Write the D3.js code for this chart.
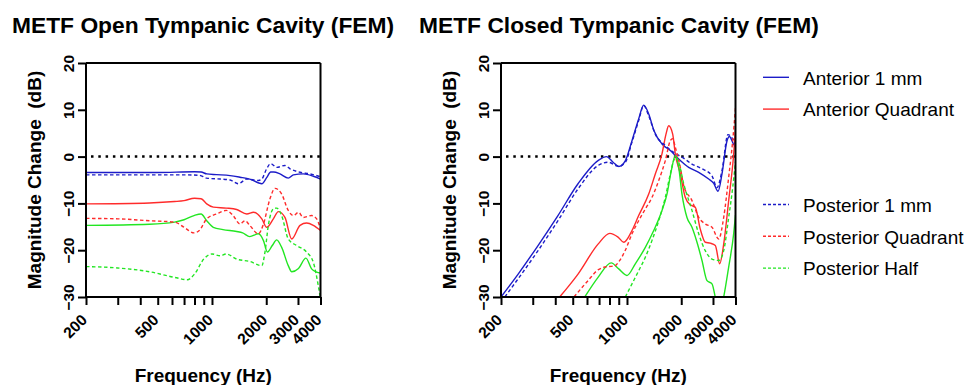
<!DOCTYPE html>
<html>
<head>
<meta charset="utf-8">
<script src="https://cdn.jsdelivr.net/npm/d3@7"></script>
<style>
  body { margin: 0; background: #fff; }
  text { font-family: Arial, "Liberation Sans", sans-serif; fill: #000; }
</style>
</head>
<body>
<svg id="chart" width="978" height="385"></svg>
<script>
// axis ticks
const freqTicks = [200, 300, 400, 500, 600, 700, 800, 900, 1000, 2000, 3000, 4000];
const freqLabels = [200, 500, 1000, 2000, 3000, 4000];
const dbTicks = [-30, -20, -10, 0, 10, 20];

// legend (two empty slots in the original)
const legendNames = ['Anterior 1 mm', 'Anterior Quadrant', '', '', 'Posterior 1 mm', 'Posterior Quadrant', 'Posterior Half'];

// open tympanic cavity: [frequency Hz, dB]
const openAnt1mm = [[200,-3.4],[500,-3.4],[800,-3.25],[870,-3.3],[935,-3.7],[1060,-3.85],[1260,-4.06],[1430,-4.4],[1620,-4.8],[1890,-5.8],[2010,-4.5],[2117,-3.3],[2200,-3.3],[2384,-3.7],[2650,-4.6],[2830,-3.9],[3210,-3.7],[3650,-4.2],[4000,-4.8]];
const openAntQuad = [[200,-10.1],[450,-9.9],[620,-9.6],[700,-9.4],[800,-8.9],[870,-9.0],[935,-10.1],[1017,-10.8],[1200,-11.0],[1370,-11.3],[1560,-12.25],[1700,-11.9],[1890,-13.3],[2012,-15.1],[2190,-13.3],[2334,-11.75],[2540,-13.0],[2770,-17.6],[3080,-14.7],[3350,-14.2],[3650,-14.7],[4000,-15.8]];
const openAntHalf = [[200,-14.7],[450,-14.45],[620,-14.0],[700,-13.5],[795,-12.6],[870,-12.25],[935,-13.7],[1017,-15.1],[1150,-15.6],[1370,-16.0],[1480,-16.3],[1620,-17.1],[1810,-16.5],[1930,-17.95],[2030,-20.4],[2160,-19.0],[2285,-17.8],[2436,-19.4],[2650,-23.3],[2770,-24.6],[3020,-23.9],[3320,-21.7],[3570,-24.0],[3810,-24.7],[4000,-24.9]];
const openPost1mm = [[200,-3.9],[700,-3.9],[850,-4.0],[935,-4.6],[1110,-4.8],[1260,-5.0],[1400,-5.8],[1560,-4.8],[1810,-5.1],[1890,-4.8],[2010,-2.6],[2117,-1.5],[2285,-2.3],[2540,-1.9],[2710,-2.6],[3080,-3.35],[3500,-3.7],[4000,-4.3]];
const openPostQuad = [[200,-13.2],[300,-13.3],[450,-13.7],[620,-14.0],[700,-15.1],[795,-16.3],[850,-15.8],[935,-13.3],[1060,-12.25],[1200,-11.5],[1310,-12.6],[1430,-14.4],[1525,-13.7],[1620,-14.7],[1810,-16.5],[1930,-14.4],[2098,-9.0],[2236,-6.8],[2436,-8.0],[2650,-11.5],[2830,-12.6],[3020,-11.9],[3210,-13.0],[3570,-12.6],[3810,-13.3],[4000,-15.5]];
const openPostHalf = [[200,-23.5],[300,-23.8],[450,-24.6],[620,-25.8],[730,-26.3],[800,-25.1],[900,-21.9],[1000,-20.8],[1110,-21.2],[1200,-20.8],[1370,-21.9],[1620,-22.4],[1890,-23.3],[1968,-20.4],[2054,-14.7],[2190,-11.2],[2285,-11.0],[2436,-12.6],[2650,-17.6],[2950,-19.0],[3350,-20.4],[3650,-22.6],[3890,-27.6],[4000,-30.4]];

// closed tympanic cavity
const closedAnt1mm = [[200,-30],[249,-25.1],[321,-19.0],[414,-12.6],[535,-5.8],[691,-0.85],[770,0],[837,-1.2],[900,-2.1],[980,-0.85],[1066,3.4],[1161,8.05],[1238,11.0],[1320,9.1],[1410,5.6],[1564,2.7],[1740,1.3],[1936,-0.5],[2200,-2.3],[2500,-3.35],[2840,-4.8],[3028,-5.7],[3200,-7.4],[3366,-3.7],[3590,3.4],[3700,4.3],[3907,2.6],[4000,2.1]];
const closedAntQuad = [[423,-30],[535,-25.1],[691,-18.7],[803,-16.4],[892,-17.2],[959,-18.3],[1066,-15.8],[1161,-12.6],[1320,-8.0],[1436,-3.7],[1564,0.6],[1646,4.8],[1704,6.6],[1793,4.8],[1854,0.6],[1976,-3.7],[2106,-8.7],[2245,-10.3],[2393,-10.8],[2551,-15.5],[2719,-18.3],[2899,-18.5],[3091,-19.0],[3268,-22.9],[3440,-18.7],[3666,-9.4],[3907,0.5],[4000,6]];
const closedAntHalf = [[583,-30],[691,-25.8],[818,-22.7],[900,-24.0],[1000,-25.4],[1112,-22.9],[1264,-19.4],[1407,-15.8],[1564,-11.5],[1667,-8.0],[1762,-3.0],[1854,0.2],[1936,-2.3],[2019,-8.0],[2152,-13.0],[2294,-15.1],[2446,-18.3],[2607,-22.2],[2780,-26.5],[2962,-27.2],[3091,-30.1],[3250,-34],[3440,-30],[3666,-23.6],[3907,-16.5],[4000,-12.5]];
const closedPost1mm = [[210,-30],[249,-26.1],[321,-20.1],[414,-13.7],[535,-6.9],[691,-1.9],[785,-1.2],[900,-2.1],[980,-1.2],[1066,3.1],[1161,7.7],[1238,10.9],[1320,8.7],[1436,4.8],[1632,2.35],[1854,0.7],[2019,-0.1],[2294,-1.6],[2607,-2.6],[2960,-4.1],[3160,-6.6],[3366,-3.0],[3634,4.7],[3860,3.8],[4000,2.7]];
const closedPostQuad = [[508,-30],[608,-26.5],[691,-24.2],[785,-23.5],[850,-23.4],[900,-22.5],[979,-20.0],[1066,-16.5],[1161,-13.7],[1264,-11.2],[1377,-8.7],[1500,-5.1],[1632,-0.85],[1740,3.4],[1793,3.8],[1854,2.0],[1976,-2.3],[2064,-6.2],[2294,-9.4],[2500,-13.0],[2719,-14.4],[2962,-15.1],[3227,-17.6],[3440,-13.0],[3666,-4.4],[3860,3.4],[4000,10.4]];
const closedPostHalf = [[979,-30],[1066,-27.2],[1161,-24.4],[1264,-21.5],[1377,-17.9],[1500,-13.7],[1632,-8.7],[1740,-3.7],[1816,-0.85],[1870,-0.1],[1936,-1.2],[2064,-5.8],[2294,-11.5],[2500,-16.5],[2719,-20.1],[2962,-21.9],[3227,-22.2],[3440,-20.1],[3666,-13.0],[3860,-6.6],[4000,-1.1]];

const BLUE = '#1c1cc8', RED = '#ff2b2b', GREEN = '#22e622';

const panels = [
  {title: 'METF Open Tympanic Cavity (FEM)', tx: 12, left: 86, series: [
    {data: openAnt1mm, color: BLUE}, {data: openAntQuad, color: RED}, {data: openAntHalf, color: GREEN},
    {data: openPost1mm, color: BLUE, dash: true}, {data: openPostQuad, color: RED, dash: true}, {data: openPostHalf, color: GREEN, dash: true}]},
  {title: 'METF Closed Tympanic Cavity (FEM)', tx: 419, left: 501, series: [
    {data: closedAnt1mm, color: BLUE}, {data: closedAntQuad, color: RED}, {data: closedAntHalf, color: GREEN},
    {data: closedPost1mm, color: BLUE, dash: true}, {data: closedPostQuad, color: RED, dash: true}, {data: closedPostHalf, color: GREEN, dash: true}]}
];

const W = 234.5, plotTop = 63, H = 234;
const svg = d3.select('#chart');

panels.forEach((p, i) => {
  const x = d3.scaleLog().domain([200, 4000]).range([p.left, p.left + W]);
  const y = d3.scaleLinear().domain([-30, 20]).range([plotTop + H, plotTop]);

  svg.append('text').attr('x', p.tx).attr('y', 33)
    .style('font-size', '22.8px').style('font-weight', 'bold').text(p.title);

  svg.append('clipPath').attr('id', 'clip' + i)
    .append('rect').attr('x', p.left).attr('y', plotTop).attr('width', W).attr('height', H);

  // zero reference
  svg.append('line')
    .attr('x1', x(200) + 5).attr('x2', x(4000)).attr('y1', y(0)).attr('y2', y(0))
    .attr('stroke', '#000').attr('stroke-width', 2.5).attr('stroke-dasharray', '2.5,4.8');

  const line = d3.line().x(d => x(d[0])).y(d => y(d[1])).curve(d3.curveMonotoneX);
  const g = svg.append('g').attr('clip-path', `url(#clip${i})`);
  p.series.forEach(s => {
    g.append('path').datum(s.data).attr('d', line)
      .attr('fill', 'none').attr('stroke', s.color).attr('stroke-width', 1.4)
      .attr('stroke-dasharray', s.dash ? '3.5,2.5' : null);
  });

  // axes
  const xAxis = svg.append('g').attr('transform', `translate(0,${plotTop + H})`)
    .call(d3.axisBottom(x).tickValues(freqTicks).tickSize(8).tickFormat(d => freqLabels.includes(d) ? d : ''));
  xAxis.selectAll('.tick text')
    .attr('text-anchor', 'end').attr('y', 0).attr('dy', 0)
    .attr('transform', 'translate(1.5,24) rotate(-45)')
    .style('font-size', '15.5px').style('font-weight', 'bold');

  const yAxis = svg.append('g').attr('transform', `translate(${p.left},0)`)
    .call(d3.axisLeft(y).tickValues(dbTicks).tickSize(8));
  yAxis.selectAll('.tick text')
    .attr('text-anchor', 'middle').attr('x', 0).attr('dy', 0)
    .attr('transform', 'translate(-12.5,0) rotate(-90)')
    .style('font-size', '15.5px').style('font-weight', 'bold');

  [xAxis, yAxis].forEach(a => {
    a.select('.domain').attr('stroke-width', 2).attr('d', a === xAxis
      ? `M${p.left},0H${p.left + W}` : `M0,${plotTop}V${plotTop + H}`);
    a.selectAll('.tick line').attr('stroke-width', 2);
  });

  // top and right frame edges
  svg.append('line').attr('x1', p.left + W).attr('x2', p.left + W)
    .attr('y1', plotTop).attr('y2', plotTop + H).attr('stroke', '#000').attr('stroke-width', 2);
  svg.append('line').attr('x1', p.left).attr('x2', p.left + W)
    .attr('y1', plotTop).attr('y2', plotTop).attr('stroke', '#000').attr('stroke-width', 2);

  svg.append('text')
    .attr('transform', `translate(${p.left - 45.5},${plotTop + H / 2}) rotate(-90)`)
    .attr('text-anchor', 'middle')
    .style('font-size', '19px').style('font-weight', 'bold').style('white-space', 'pre')
    .text('Magnitude Change  (dB)');

  svg.append('text').attr('x', p.left + W / 2).attr('y', 381.5)
    .attr('text-anchor', 'middle')
    .style('font-size', '19px').style('font-weight', 'bold')
    .text('Frequency (Hz)');
});

// legend
const legendColors = [BLUE, RED, GREEN, GREEN, BLUE, RED, GREEN];
const legendDash = [false, false, false, false, true, true, true];
const lg = svg.append('g');
legendNames.forEach((name, k) => {
  if (!name) return;
  const cy = 77.3 + k * 31.8;
  lg.append('line').attr('x1', 763).attr('x2', 789).attr('y1', cy).attr('y2', cy)
    .attr('stroke', legendColors[k]).attr('stroke-width', 1.4)
    .attr('stroke-dasharray', legendDash[k] ? '3,2' : null);
  lg.append('text').attr('x', 803).attr('y', cy + 7.2)
    .style('font-size', '19px').text(name);
});
</script>
</body>
</html>
